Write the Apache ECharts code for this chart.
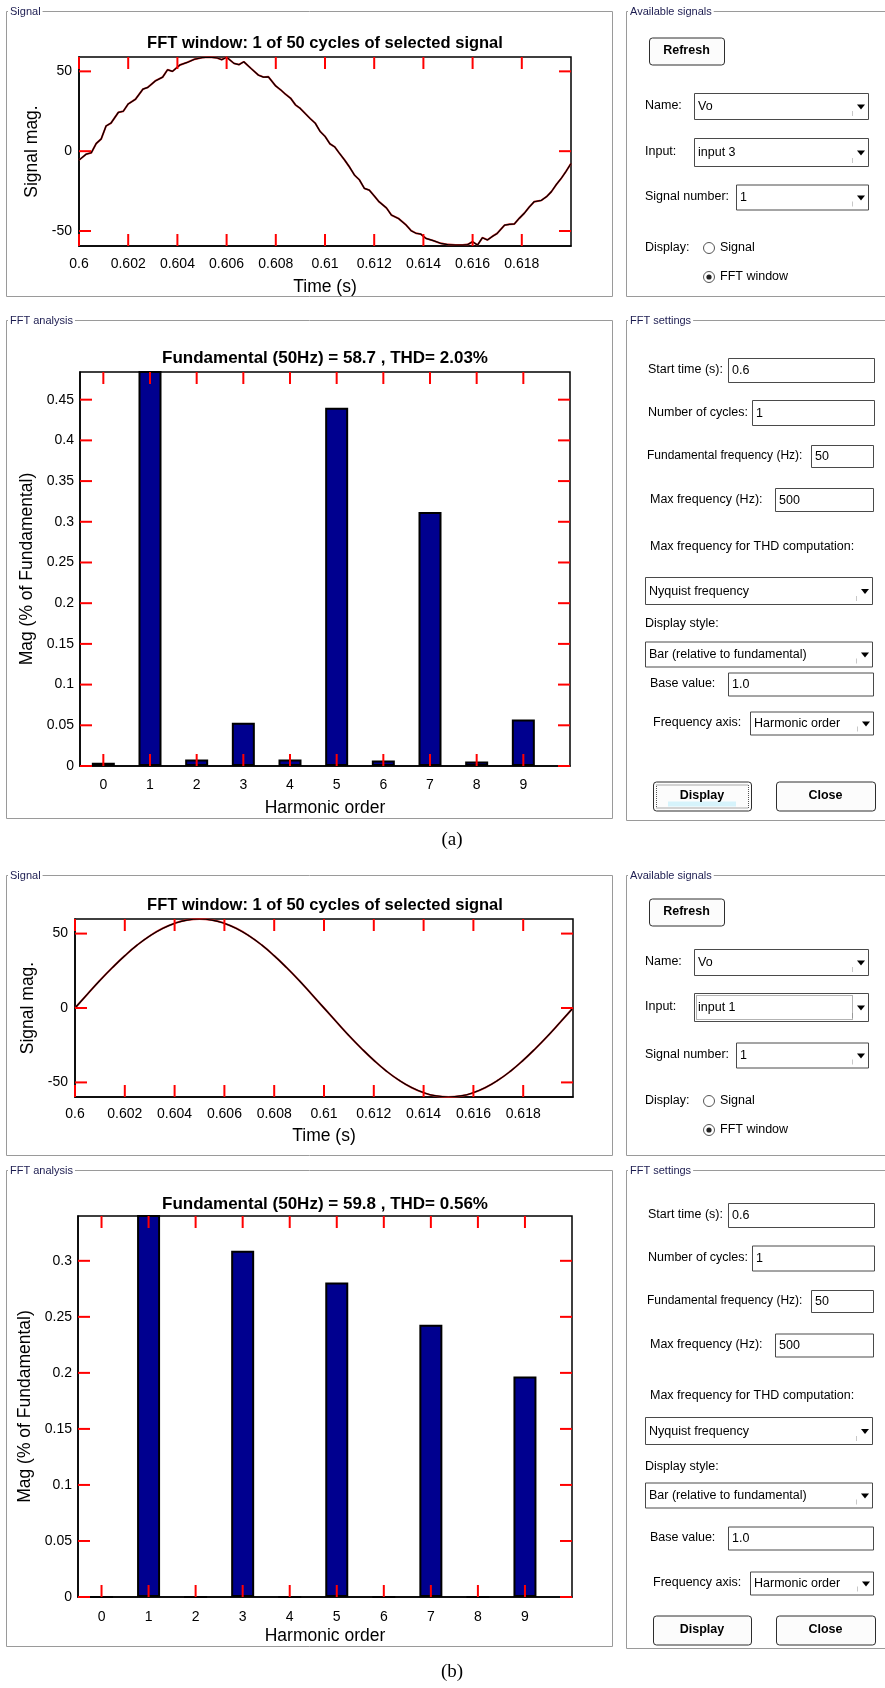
<!DOCTYPE html>
<html>
<head>
<meta charset="utf-8">
<title>FFT analysis</title>
<script src="https://cdn.jsdelivr.net/npm/echarts@6.0.0/dist/echarts.min.js"></script>
<style>
  html, body { margin: 0; padding: 0; background: #fff; }
  #main { width: 885px; height: 1688px; }
</style>
</head>
<body>
<div id="main"></div>
<script type="text/javascript">
// signal (a), with the switching ripple
var sigATime = [0.6000, 0.6003, 0.6005, 0.6007, 0.6009, 0.6011, 0.6013, 0.6016, 0.6018, 0.6020,
    0.6023, 0.6026, 0.6028, 0.6031, 0.6034, 0.6036, 0.6038, 0.6041, 0.6044, 0.6047,
    0.6050, 0.6053, 0.6056, 0.6058, 0.6060, 0.6063, 0.6065, 0.6067, 0.6070, 0.6073,
    0.6075, 0.6077, 0.6080, 0.6082, 0.6084, 0.6086, 0.6088, 0.6090, 0.6092, 0.6094,
    0.6096, 0.6098, 0.6100, 0.6102, 0.6104, 0.6106, 0.6108, 0.6110, 0.6112, 0.6114,
    0.6116, 0.6118, 0.6120, 0.6122, 0.6125, 0.6127, 0.6130, 0.6133, 0.6135, 0.6137,
    0.6139, 0.6141, 0.6144, 0.6147, 0.6150, 0.6153, 0.6156, 0.6158, 0.6160, 0.6162,
    0.6164, 0.6166, 0.6168, 0.6170, 0.6173, 0.6175, 0.6177, 0.6179, 0.6181, 0.6183,
    0.6185, 0.6188, 0.6190, 0.6192, 0.6194, 0.6196, 0.6198, 0.6200];
var sigAValue = [-5.6, -1.8, -1.0, 4.8, 7.6, 15.8, 17.6, 24.3, 25.0, 29.6,
    32.6, 38.9, 40.0, 44.0, 46.4, 51.0, 50.0, 54.0, 55.6, 57.6,
    58.6, 58.9, 58.5, 57.3, 58.9, 55.0, 54.2, 56.0, 51.7, 47.6,
    46.4, 46.6, 40.8, 38.4, 35.6, 33.2, 29.0, 26.7, 23.5, 20.4,
    17.6, 12.4, 9.3, 4.6, 2.6, -1.6, -5.6, -10.0, -15.0, -18.0,
    -23.3, -24.4, -28.0, -31.7, -35.6, -40.0, -42.3, -46.3, -49.8, -51.4,
    -52.0, -54.6, -56.0, -57.7, -58.5, -58.8, -58.8, -58.5, -56.7, -58.8,
    -54.2, -55.6, -53.4, -51.5, -46.3, -45.8, -45.6, -42.0, -38.9, -35.0,
    -31.7, -30.8, -28.6, -25.4, -21.0, -17.1, -12.6, -7.7];

// signal (b): clean sine
var sigBTime = [0.6000, 0.6005, 0.6010, 0.6015, 0.6020, 0.6025, 0.6030, 0.6035, 0.6040, 0.6045,
    0.6050, 0.6055, 0.6060, 0.6065, 0.6070, 0.6075, 0.6080, 0.6085, 0.6090, 0.6095,
    0.6100, 0.6105, 0.6110, 0.6115, 0.6120, 0.6125, 0.6130, 0.6135, 0.6140, 0.6145,
    0.6150, 0.6155, 0.6160, 0.6165, 0.6170, 0.6175, 0.6180, 0.6185, 0.6190, 0.6195, 0.6200];
var sigBValue = [0, 9.3, 18.5, 27.1, 35.1, 42.3, 48.4, 53.3, 56.9, 59.1,
    59.8, 59.1, 56.9, 53.3, 48.4, 42.3, 35.1, 27.1, 18.5, 9.3,
    0, -9.3, -18.5, -27.1, -35.1, -42.3, -48.4, -53.3, -56.9, -59.1,
    -59.8, -59.1, -56.9, -53.3, -48.4, -42.3, -35.1, -27.1, -18.5, -9.3, 0];

// harmonic spectra (% of fundamental), fundamental bar runs off the top
var harmonics = [0, 1, 2, 3, 4, 5, 6, 7, 8, 9];
var magA = [0.004, 100, 0.008, 0.053, 0.008, 0.44, 0.0068, 0.312, 0.0055, 0.057];
var magB = [0, 100, 0, 0.309, 0, 0.2806, 0, 0.243, 0, 0.1968];

var timeTicks = [0.6, 0.602, 0.604, 0.606, 0.608, 0.61, 0.612, 0.614, 0.616, 0.618];
var sigTicks = [-50, 0, 50];
var magTicksA = [0, 0.05, 0.1, 0.15, 0.2, 0.25, 0.3, 0.35, 0.4, 0.45];
var magTicksB = [0, 0.05, 0.1, 0.15, 0.2, 0.25, 0.3];

var titles = ['FFT window: 1 of 50 cycles of selected signal', 'Fundamental (50Hz) = 58.7 , THD= 2.03%',
    'FFT window: 1 of 50 cycles of selected signal', 'Fundamental (50Hz) = 59.8 , THD= 0.56%'];

var FONT = '"Liberation Sans", Arial, Helvetica, sans-serif';
var TICK_COLOR = '#ff0000';
var TICK_LEN = 12;

function pairs(xs, ys) {
    return xs.map(function (x, i) { return [x, ys[i]]; });
}

// ---------- GUI pieces (drawn with graphic elements) ----------
var G = [];
function txt(x, y, s, o) {
    o = o || {};
    var st = {
        x: x, y: y, text: s, fill: o.color || '#000',
        font: (o.bold ? 'bold ' : '') + (o.size || 12.5) + 'px ' + (o.family || FONT),
        textAlign: o.align || 'left', align: o.align || 'left',
        textVerticalAlign: 'middle', verticalAlign: 'middle'
    };
    if (o.bg) { st.backgroundColor = o.bg; st.padding = [0, 2]; }
    G.push({ type: 'text', z: 20, silent: true, style: st });
}
function frame(x, y, w, h, label) {
    G.push({ type: 'rect', z: 1, silent: true, shape: { x: x + 0.5, y: y + 0.5, width: w, height: h },
        style: { fill: 'none', stroke: '#9a9a9a', lineWidth: 1 } });
    txt(x + 2, y + 1, label, { size: 11, color: '#1c1c50', bg: '#fff' });
}
function button(x, y, w, h, label, focus) {
    G.push({ type: 'rect', z: 5, silent: true, shape: { x: x + 0.5, y: y + 0.5, width: w, height: h, r: 3 },
        style: { fill: '#fcfcfc', stroke: '#2e2e2e', lineWidth: 1 } });
    if (focus) {
        G.push({ type: 'rect', z: 6, silent: true, shape: { x: x + 15, y: y + h - 9, width: w - 30, height: 5 },
            style: { fill: '#d6f3fb' } });
        G.push({ type: 'rect', z: 6, silent: true, shape: { x: x + 3.5, y: y + 3.5, width: w - 6, height: h - 6 },
            style: { fill: 'none', stroke: '#555', lineWidth: 1, lineDash: [1, 1] } });
    }
    txt(x + w / 2, y + h / 2, label, { bold: true, align: 'center' });
}
function edit(x, y, w, h, val) {
    G.push({ type: 'rect', z: 5, silent: true, shape: { x: x + 0.5, y: y + 0.5, width: w, height: h },
        style: { fill: '#fff', stroke: '#4a4a4a', lineWidth: 1 } });
    txt(x + 4, y + h / 2 + 1, val);
}
function popup(x, y, w, h, val, focus) {
    edit(x, y, w, h, val);
    G.push({ type: 'line', z: 6, silent: true, shape: { x1: x + w - 15.5, y1: y + h - 8, x2: x + w - 15.5, y2: y + h - 3 },
        style: { stroke: '#c8c8c8', lineWidth: 1 } });
    var cx = x + w - 7, cy = y + h / 2 + 1;
    G.push({ type: 'polygon', z: 6, silent: true, shape: { points: [[cx - 4, cy - 2.5], [cx + 4, cy - 2.5], [cx, cy + 2.5]] },
        style: { fill: '#000' } });
    if (focus) {
        G.push({ type: 'rect', z: 6, silent: true, shape: { x: x + 2.5, y: y + 2.5, width: w - 18, height: h - 4 },
            style: { fill: 'none', stroke: '#666', lineWidth: 1, lineDash: [1, 1] } });
    }
}
function radio(cx, cy, on, label) {
    G.push({ type: 'circle', z: 6, silent: true, shape: { cx: cx, cy: cy, r: 5.5 },
        style: { fill: '#fff', stroke: '#555', lineWidth: 1 } });
    if (on) {
        G.push({ type: 'circle', z: 7, silent: true, shape: { cx: cx, cy: cy, r: 2.6 }, style: { fill: '#222' } });
    }
    txt(cx + 11, cy, label);
}

function availPanel(r, inputName, inputFocus) {
    frame(626, r.top, 270, r.bottom - r.top, 'Available signals');
    button(649, r.refresh - 13.5, 75, 27, 'Refresh');
    txt(645, r.name, 'Name:');
    popup(694, r.name - 13, 174, 26, 'Vo');
    txt(645, r.input, 'Input:');
    popup(694, r.input - 14, 174, 28, inputName, inputFocus);
    txt(645, r.signum, 'Signal number:');
    popup(736, r.signum - 12.5, 132, 25, '1');
    txt(645, r.disp, 'Display:');
    radio(709, r.disp, false, 'Signal');
    radio(709, r.fft, true, 'FFT window');
}
function settingsPanel(r, displayFocus) {
    frame(626, r.top, 270, r.bottom - r.top, 'FFT settings');
    txt(648, r.start, 'Start time (s):');
    edit(728, r.start - 12, 146, 24, '0.6');
    txt(648, r.ncyc, 'Number of cycles:');
    edit(752, r.ncyc - 12.5, 122, 25, '1');
    txt(647, r.fund, 'Fundamental frequency (Hz):', { size: 12 });
    edit(811, r.fund - 11, 62, 22, '50');
    txt(650, r.maxf, 'Max frequency (Hz):');
    edit(775, r.maxf - 11.5, 98, 23, '500');
    txt(650, r.thd, 'Max frequency for THD computation:');
    popup(645, r.nyq - 13, 227, 27, 'Nyquist frequency');
    txt(645, r.dstyle, 'Display style:');
    popup(645, r.bar - 12.5, 227, 25, 'Bar (relative to fundamental)');
    txt(650, r.base, 'Base value:');
    edit(728, r.base - 11.5, 145, 23, '1.0');
    txt(653, r.faxis, 'Frequency axis:');
    popup(750, r.faxis - 11.5, 123, 23, 'Harmonic order');
    button(653, r.btn - 14.5, 98, 29, 'Display', displayFocus);
    button(776, r.btn - 14.5, 99, 29, 'Close');
}

// left group boxes
frame(6, 11, 606, 285, 'Signal');
frame(6, 320, 606, 498, 'FFT analysis');
frame(6, 875, 606, 280, 'Signal');
frame(6, 1170, 606, 476, 'FFT analysis');

availPanel({ top: 11, bottom: 296, refresh: 51, name: 106, input: 152, signum: 197, disp: 248, fft: 277 }, 'input 3', false);
settingsPanel({ top: 320, bottom: 820, start: 370, ncyc: 412.5, fund: 456, maxf: 499.5, thd: 547, nyq: 590,
    dstyle: 624, bar: 654, base: 684, faxis: 723, btn: 796 }, true);
availPanel({ top: 875, bottom: 1155, refresh: 912, name: 962, input: 1007, signum: 1055, disp: 1101, fft: 1130 }, 'input 1', true);
settingsPanel({ top: 1170, bottom: 1648, start: 1215, ncyc: 1258, fund: 1301, maxf: 1345, thd: 1396, nyq: 1430,
    dstyle: 1467, bar: 1495, base: 1538, faxis: 1583, btn: 1630 }, false);

// plot titles and sub-figure labels
var titleY = [43, 358, 905, 1204];
var titleSize = [16.5, 17, 16.5, 17];
titles.forEach(function (t, i) { txt(325, titleY[i], t, { bold: true, size: titleSize[i], align: 'center' }); });
txt(452, 840, '(a)', { size: 19, align: 'center', family: '"Liberation Serif", "Times New Roman", serif' });
txt(452, 1672, '(b)', { size: 19, align: 'center', family: '"Liberation Serif", "Times New Roman", serif' });

// ---------- axes ----------
var grids = [
    { left: 79, top: 57, width: 492, height: 189 },
    { left: 80, top: 372, width: 490, height: 394 },
    { left: 75, top: 919, width: 498, height: 178 },
    { left: 78, top: 1216, width: 494, height: 381 }
];
var tickFmt = function (v) { return String(+(+v).toFixed(3)); };

function labelAxis(gi, pos, min, max, ticks, name, nameGap, margin) {
    return {
        gridIndex: gi, type: 'value', position: pos, min: min, max: max,
        axisLine: { show: true, onZero: false, lineStyle: { color: '#000', width: 1.5 } },
        axisTick: { show: false },
        axisLabel: { show: true, customValues: ticks, margin: margin, color: '#000', fontSize: 14,
            fontFamily: FONT, formatter: tickFmt },
        splitLine: { show: false },
        name: name, nameLocation: 'middle', nameGap: nameGap,
        nameTextStyle: { color: '#000', fontSize: 17.5, fontFamily: FONT }
    };
}

var xRange = [[0.6, 0.62], [-0.5, 10], [0.6, 0.62], [-0.5, 10]];
var yRange = [[-59.4, 59], [0, 0.484], [-59.8, 59.8], [0, 0.34]];
var xTickSets = [timeTicks, harmonics, timeTicks, harmonics];
var yTickSets = [sigTicks, magTicksA, sigTicks, magTicksB];

var xAxes = [
    labelAxis(0, 'bottom', xRange[0][0], xRange[0][1], timeTicks, 'Time (s)', 32, 11),
    labelAxis(1, 'bottom', xRange[1][0], xRange[1][1], harmonics, 'Harmonic order', 33, 12),
    labelAxis(2, 'bottom', xRange[2][0], xRange[2][1], timeTicks, 'Time (s)', 30, 10),
    labelAxis(3, 'bottom', xRange[3][0], xRange[3][1], harmonics, 'Harmonic order', 30, 13)
];
var yAxes = [
    labelAxis(0, 'left', yRange[0][0], yRange[0][1], sigTicks, 'Signal mag.', 30, 7),
    labelAxis(1, 'left', yRange[1][0], yRange[1][1], magTicksA, 'Mag (% of Fundamental)', 40, 6),
    labelAxis(2, 'left', yRange[2][0], yRange[2][1], sigTicks, 'Signal mag.', 31, 7),
    labelAxis(3, 'left', yRange[3][0], yRange[3][1], magTicksB, 'Mag (% of Fundamental)', 40, 6)
];

// MATLAB-style inward ticks on all four sides, placed through the axis scales
function tickSeries(gi) {
    var data = xTickSets[gi].map(function (v) { return [v, yRange[gi][0], 0]; })
        .concat(yTickSets[gi].map(function (v) { return [xRange[gi][0], v, 1]; }));
    return {
        type: 'custom', xAxisIndex: gi, yAxisIndex: gi, z: 5, silent: true, clip: false, data: data,
        encode: { x: 0, y: 1 },
        renderItem: function (params, api) {
            var cs = params.coordSys, L = TICK_LEN;
            var p = api.coord([api.value(0), api.value(1)]);
            function seg(x1, y1, x2, y2) {
                return { type: 'line', shape: { x1: x1, y1: y1, x2: x2, y2: y2 },
                    style: { stroke: TICK_COLOR, lineWidth: 2, fill: null } };
            }
            if (api.value(2) === 0) {
                return { type: 'group', children: [
                    seg(p[0], cs.y + cs.height, p[0], cs.y + cs.height - L),
                    seg(p[0], cs.y, p[0], cs.y + L)
                ] };
            }
            return { type: 'group', children: [
                seg(cs.x, p[1], cs.x + L, p[1]),
                seg(cs.x + cs.width, p[1], cs.x + cs.width - L, p[1])
            ] };
        }
    };
}

function signalSeries(xi, data, smooth) {
    return [
        { type: 'line', xAxisIndex: xi, yAxisIndex: xi, data: data, showSymbol: false, smooth: smooth,
          lineStyle: { color: '#d42020', width: 1.9 }, silent: true },
        { type: 'line', xAxisIndex: xi, yAxisIndex: xi, data: data, showSymbol: false, smooth: smooth,
          lineStyle: { color: '#000', width: 1.2 }, silent: true }
    ];
}
function barSeries(xi, vals) {
    return {
        type: 'bar', xAxisIndex: xi, yAxisIndex: xi, data: pairs(harmonics, vals), barWidth: 23, clip: true,
        itemStyle: { color: '#00008f', borderColor: '#000', borderWidth: 2 }, silent: true
    };
}

var series = [].concat(
    signalSeries(0, pairs(sigATime, sigAValue), false),
    [barSeries(1, magA)],
    signalSeries(2, pairs(sigBTime, sigBValue), true),
    [barSeries(3, magB)],
    [tickSeries(0), tickSeries(1), tickSeries(2), tickSeries(3)]
);

var myChart = echarts.init(document.getElementById('main'), null, { renderer: 'canvas' });
myChart.setOption({
    backgroundColor: '#fff',
    animation: false,
    grid: grids.map(function (g) { return Object.assign({ show: true, borderColor: '#000', borderWidth: 1.5 }, g); }),
    xAxis: xAxes,
    yAxis: yAxes,
    series: series,
    graphic: { elements: G }
});
</script>
</body>
</html>
